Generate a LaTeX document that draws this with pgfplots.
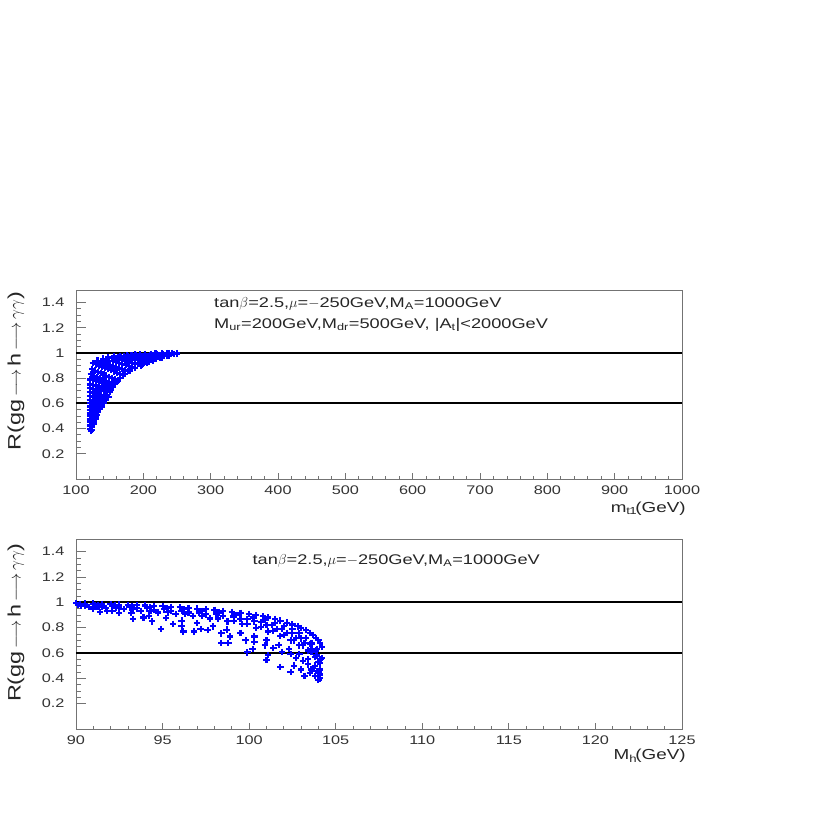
\documentclass[border=0pt]{standalone}
\usepackage{pgfplots}
\pgfplotsset{compat=1.18}
\usepackage{fontspec}
\setmainfont{Liberation Sans}[FakeStretch=1.3]
\definecolor{pawblue}{RGB}{0,0,255}
\pgfplotsset{
  paw/.style={
    scale only axis, width=606pt,
    axis line style={black!55, line width=0.8pt},
    tick style={black!55, line width=0.8pt},
    tick align=inside, tick pos=left,
    x tick style={/pgfplots/major tick length=6pt,/pgfplots/minor tick length=3pt},
    y tick style={/pgfplots/major tick length=10pt,/pgfplots/minor tick length=5pt},
    tick label style={font=\fontsize{12.5}{14}\selectfont, text=black!80},
    /pgf/number format/assume math mode=true,
    /pgf/number format/1000 sep={},
    yticklabel style={xshift=-8pt},
    xticklabel style={yshift=-3pt},
    ymin=0, ymax=1.5,
    ytick={0.2,0.4,0.6,0.8,1,1.2,1.4},
    yticklabels={0.2,0.4,0.6,0.8,1,1.2,1.4},
    minor y tick num=3,
    minor x tick num=4,
    ylabel={R(gg\,$\longrightarrow$\,h\,$\longrightarrow$\,$\gamma\gamma$)},
    ylabel style={font=\fontsize{18}{20}\selectfont, text=black!85, anchor=center},
    xlabel style={font=\fontsize{14.5}{17}\selectfont, text=black!85, anchor=east},
    clip=true,
  },
  pts/.style={only marks, mark=+, mark size=3.2pt, color=pawblue, mark options={line width=2.1pt, draw=pawblue}},
  hl/.style={black, line width=2pt},
}
\begin{document}
\begin{tikzpicture}
\path[use as bounding box] (0pt,0pt) rectangle (817pt,817pt);
% ---------------- top panel ----------------
\begin{axis}[paw, height=189pt, at={(76pt,338pt)}, anchor=south west,
  xmin=100, xmax=1000, xtick={100,200,...,1000},
  xlabel={m$_{\rm t1}$(GeV)},
  xlabel style={at={(axis description cs:1.012,-0.155)}},
  ylabel style={at={(axis description cs:-0.099,0.57)}},
]
\addplot[pts] coordinates {
(121,0.40) (123,0.39)
(121,0.425) (124,0.415)
(121,0.45) (123.5,0.445) (126,0.44)
(121,0.475) (124,0.47) (127,0.465)
(121,0.50) (123.7,0.493) (126.3,0.487) (129,0.48)
(121,0.525) (124,0.52) (127.5,0.513) (131,0.507)
(121,0.55) (124,0.545) (127,0.54) (130,0.535) (133,0.53)
(121,0.575) (124.5,0.57) (128,0.564) (131.5,0.558) (135,0.553)
(121,0.60) (124.4,0.594) (127.8,0.588) (131.2,0.582) (134.6,0.576) (138,0.57)
(121,0.63) (125,0.624) (129,0.618) (133,0.612) (137,0.606) (141,0.60)
(121,0.66) (124.8,0.655) (128.7,0.65) (132.5,0.645) (136.3,0.64) (140.2,0.635) (144,0.63)
(121,0.69) (125,0.684) (129,0.678) (133,0.672) (137,0.667) (141,0.662) (145,0.657) (148,0.653)
(121,0.72) (125.1,0.716) (129.3,0.711) (133.4,0.707) (137.6,0.703) (141.7,0.699) (145.9,0.694) (150,0.69)
(121,0.755) (125.5,0.749) (130,0.742) (134.5,0.735) (139,0.729) (143.5,0.722) (148,0.716) (152,0.71)
(121,0.79) (125.3,0.783) (129.5,0.776) (133.8,0.769) (138,0.763) (142.3,0.756) (146.5,0.749) (150.8,0.742) (155,0.735)
(122,0.83) (126.5,0.82) (131,0.81) (135.5,0.80) (140,0.79) (144.5,0.78) (149,0.77) (153.5,0.76) (158,0.755)
(124,0.87) (128.2,0.86) (132.4,0.85) (136.7,0.84) (140.9,0.83) (145.1,0.82) (149.3,0.81) (153.6,0.80) (157.8,0.79) (162,0.78)
(125,0.92) (129.5,0.91) (134,0.901) (138.5,0.892) (143,0.882) (147.5,0.872) (152,0.863) (156.5,0.854) (161,0.844) (165.5,0.835) (170,0.825)
(132,0.94) (136.6,0.932) (141.2,0.923) (145.8,0.915) (150.4,0.906) (155,0.898) (159.6,0.889) (164.2,0.881) (168.8,0.872) (173.4,0.864) (178,0.855)
(140,0.955) (144.8,0.948) (149.6,0.94) (154.4,0.933) (159.2,0.925) (164,0.918) (168.8,0.91) (173.6,0.903) (178.4,0.895) (183.2,0.888) (188,0.88)
(148,0.965) (153,0.959) (158,0.953) (163,0.947) (168,0.941) (173,0.935) (178,0.929) (183,0.923) (188,0.917) (193,0.911) (198,0.905)
(157,0.972) (162.1,0.968) (167.2,0.964) (172.3,0.959) (177.4,0.955) (182.5,0.951) (187.6,0.947) (192.7,0.943) (197.8,0.938) (202.9,0.934) (208,0.93)
(166,0.978) (171.8,0.975) (177.6,0.972) (183.3,0.969) (189.1,0.966) (194.9,0.962) (200.7,0.959) (206.4,0.956) (212.2,0.953) (218,0.95)
(176,0.984) (182.5,0.982) (189,0.979) (195.5,0.977) (202,0.974) (208.5,0.972) (215,0.970) (221.5,0.967) (228,0.965)
(188,0.99) (195.1,0.989) (202.3,0.987) (209.4,0.986) (216.6,0.984) (223.7,0.983) (230.9,0.981) (238,0.98)
(202,0.994) (210.8,0.993) (219.6,0.992) (228.4,0.992) (237.2,0.991) (246,0.99)
(218,0.997) (228,0.997) (238,0.996) (250,0.995)
(235,1.0) (242,1.0) (250,1.0)
(121,0.42) (121,0.47) (121,0.52) (121,0.57) (121,0.63) (121,0.69) (121,0.75) (122,0.38)
(124,0.41) (126,0.45) (128,0.475) (130,0.5) (133,0.53) (136,0.56) (140,0.6) (143,0.63)
(146,0.66) (150,0.69) (155,0.73) (160,0.77) (166,0.805) (172,0.835) (180,0.86) (188,0.88)
(196,0.9) (205,0.92) (215,0.94) (225,0.96) (235,0.975) (245,0.99)
};
\addplot[hl] coordinates {(100,1) (1000,1)};
\addplot[hl] coordinates {(100,0.6) (1000,0.6)};
\node[anchor=west, font=\fontsize{14}{16}\selectfont, text=black!85] at (axis cs:300,1.39)
  {tan$\beta$=2.5,$\mu$=$-$250GeV,M\textsubscript{A}=1000GeV};
\node[anchor=west, font=\fontsize{14}{16}\selectfont, text=black!85] at (axis cs:300,1.224)
  {M\textsubscript{ur}=200GeV,M\textsubscript{dr}=500GeV, |A\textsubscript{t}|<2000GeV};
\end{axis}
% ---------------- bottom panel ----------------
\begin{axis}[paw, height=190pt, at={(76pt,88pt)}, anchor=south west,
  xmin=90, xmax=125, xtick={90,95,...,125},
  xlabel={M$_{\rm h}$(GeV)},
  xlabel style={at={(axis description cs:1.012,-0.142)}},
  ylabel style={at={(axis description cs:-0.099,0.56)}},
]
\addplot[pts] coordinates {
(90,0.995) (91,0.99) (92,0.985) (93,0.98) (94,0.975) (95,0.97) (96,0.96) (97,0.95) (98,0.94) (99,0.925) (100,0.91) (100.8,0.89) (101.5,0.87) (102.2,0.84) (102.8,0.81) (103.3,0.78) (103.7,0.74) (104.0,0.70) (104.2,0.65)
(90.5,0.99) (91.5,0.987) (92.5,0.982) (93.5,0.977) (94.5,0.972) (95.5,0.965) (96.5,0.955) (97.5,0.945) (98.5,0.933) (99.5,0.918) (100.4,0.90) (101.1,0.88) (101.8,0.855) (102.5,0.825) (103.0,0.795) (103.5,0.76) (103.85,0.72) (104.1,0.68)
(90.25,0.985) (91.25,0.98) (92.25,0.975) (93.25,0.968) (94.25,0.962) (95.25,0.955) (96.25,0.944) (97.25,0.932) (98.25,0.92) (99.25,0.90) (100.25,0.88) (100.9,0.86) (101.5,0.84) (102,0.815) (102.5,0.79) (102.9,0.755) (103.3,0.72) (103.6,0.675) (103.9,0.63) (104.2,0.56)
(90.1,0.98) (91.1,0.974) (92.1,0.968) (93.1,0.96) (94.1,0.952) (95.1,0.944) (96.1,0.933) (97.1,0.92) (98.1,0.905) (99.1,0.888) (99.9,0.868) (100.7,0.845) (101.3,0.82) (101.9,0.79) (102.5,0.755) (103.0,0.715) (103.5,0.67) (103.85,0.62) (104.15,0.55)
(90.5,0.975) (91.5,0.968) (92.5,0.96) (93.5,0.952) (94.5,0.943) (95.5,0.933) (96.5,0.92) (97.5,0.905) (98.5,0.89) (99.5,0.87) (100.3,0.85) (101,0.82) (101.6,0.79) (102.2,0.76) (102.7,0.72) (103.2,0.68) (103.6,0.63) (103.9,0.58) (104.1,0.52)
(90.3,0.97) (91.3,0.962) (92.3,0.953) (93.3,0.944) (94.3,0.933) (95.3,0.921) (96.3,0.907) (97.3,0.89) (98.2,0.872) (99.1,0.852) (99.9,0.83) (100.7,0.805) (101.4,0.775) (102.0,0.74) (102.6,0.70) (103.1,0.66) (103.6,0.61) (104.0,0.53)
(90.75,0.965) (91.75,0.956) (92.75,0.945) (93.75,0.933) (94.75,0.92) (95.75,0.906) (96.75,0.89) (97.75,0.872) (98.75,0.85) (99.6,0.83) (100.4,0.80) (101.1,0.77) (101.8,0.735) (102.4,0.70) (102.9,0.66) (103.4,0.62) (103.8,0.57) (104.1,0.47)
(91,0.95) (92.1,0.935) (93.2,0.915) (94.2,0.895) (95.2,0.875) (96.1,0.855) (97,0.835) (97.9,0.81) (98.7,0.785) (99.5,0.76) (100.3,0.73) (101,0.70) (101.7,0.665) (102.3,0.63) (102.9,0.59) (103.4,0.55) (103.8,0.50) (104.1,0.43)
(91.8,0.93) (93.9,0.88) (95.6,0.83) (97.2,0.79) (98.4,0.755) (99.8,0.70) (100.9,0.66) (101.9,0.61) (102.7,0.56) (103.4,0.51) (103.9,0.46)
(92.5,0.915) (94.4,0.85) (96.1,0.81) (97.6,0.78) (98.9,0.73) (100.3,0.69) (101.4,0.64) (102.4,0.59) (103.1,0.54) (103.7,0.48)
(91.4,0.926) (93.3,0.87) (94.9,0.79) (96.2,0.77) (96.8,0.77) (98.4,0.68) (98.8,0.68) (99.9,0.605) (100.2,0.63) (101.1,0.585) (101.0,0.545) (101.8,0.49) (102.4,0.45) (103.2,0.42) (104.0,0.39)
(102.6,0.50) (103.0,0.47) (103.5,0.44) (103.8,0.42) (104.1,0.40) (103.6,0.47) (104.0,0.45)
};
\addplot[hl] coordinates {(90,1) (125,1)};
\addplot[hl] coordinates {(90,0.6) (125,0.6)};
\node[anchor=west, font=\fontsize{14}{16}\selectfont, text=black!85] at (axis cs:100,1.33)
  {tan$\beta$=2.5,$\mu$=$-$250GeV,M\textsubscript{A}=1000GeV};
\end{axis}
\end{tikzpicture}
\end{document}
